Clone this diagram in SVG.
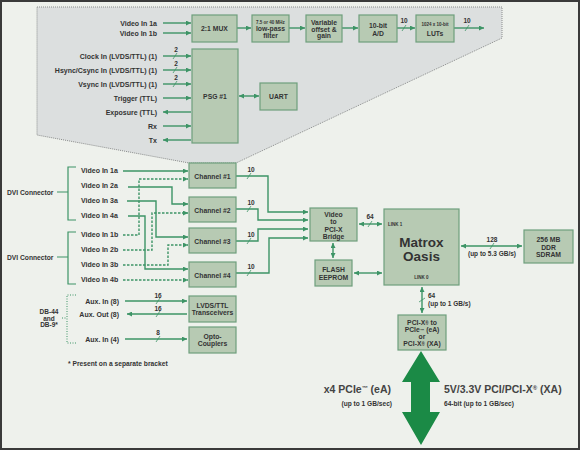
<svg xmlns="http://www.w3.org/2000/svg" width="580" height="450" viewBox="0 0 580 450">
<defs>
<style>
.t{font-family:"Liberation Sans",Arial,sans-serif;font-weight:bold;fill:#333}
.l{font-size:7px}
.r{text-anchor:end}
.m{text-anchor:middle}
.bx{fill:#b7cab3;stroke:#6e9f7c;stroke-width:1.2}
.bt{font-size:6.8px;text-anchor:middle}
.sm{font-size:4.5px;text-anchor:middle}
.c{fill:none;stroke:#3d9466;stroke-width:1.4}
.d{stroke-dasharray:2.5,1.5}
.dot{fill:none;stroke:#3d9466;stroke-width:1;stroke-dasharray:1,1.5}
.br{fill:none;stroke:#3d9466;stroke-width:1.2}
.a{marker-end:url(#ah)}
.aa{marker-end:url(#ah);marker-start:url(#ah)}
.sl{stroke:#3d9466;stroke-width:0.8}
.n{font-size:6.5px;text-anchor:middle}
</style>
<marker id="ah" viewBox="0 0 6 6" refX="6" refY="3" markerWidth="6" markerHeight="5" markerUnits="userSpaceOnUse" orient="auto-start-reverse">
<path d="M0,0 L6,3 L0,6 z" fill="#3d9466"/>
</marker>
</defs>
<rect x="1" y="1" width="578" height="448" fill="#eef1ec" stroke="#3a3a3a" stroke-width="2"/>
<polygon points="37,7 502,7 502,38 236,163 189,163 37,135" fill="#dcdfdf" stroke="#8a8c8c" stroke-width="1" stroke-dasharray="1,1"/>

<g id="connectors">
<path class="c a" d="M163,23 L191,23"/>
<path class="c a" d="M163,33 L191,33"/>
<path class="c a" d="M237,28 L251,28"/>
<path class="c a" d="M289,28 L305,28"/>
<path class="c a" d="M342,28 L358,28"/>
<path class="c a" d="M397,28 L415,28"/>
<path class="c a" d="M454,28 L484,28"/>
<line class="sl" x1="402" y1="31" x2="406" y2="25"/>
<line class="sl" x1="465" y1="31" x2="469" y2="25"/>
<text class="t n" x="404" y="23">10</text>
<text class="t n" x="467" y="23">10</text>
<path class="c a" d="M163,56 L191,56"/>
<path class="c a" d="M163,70 L191,70"/>
<path class="c a" d="M163,84 L191,84"/>
<path class="c a" d="M163,98 L191,98"/>
<path class="c a" d="M191,112 L163,112"/>
<path class="c a" d="M163,126 L191,126"/>
<path class="c a" d="M191,140 L163,140"/>
<line class="sl" x1="173" y1="59" x2="177" y2="53"/>
<line class="sl" x1="173" y1="73" x2="177" y2="67"/>
<line class="sl" x1="173" y1="87" x2="177" y2="81"/>
<text class="t n" x="176" y="52">2</text>
<text class="t n" x="176" y="66">2</text>
<text class="t n" x="176" y="80">2</text>
<path class="c aa" d="M239,96 L259,96"/>
<path class="c a" d="M123,171 L188,171"/>
<path class="c a d" d="M123,235 L139,235 L139,179 L188,179"/>
<path class="c a" d="M128,187 L172,187 L172,204 L188,204"/>
<path class="c a d" d="M123,250 L152,250 L152,213 L188,213"/>
<path class="c a" d="M127,201 L156,201 L156,237 L188,237"/>
<path class="c a d" d="M123,265 L168,265 L168,245 L188,245"/>
<path class="c a" d="M128,216 L145,216 L145,269 L188,269"/>
<path class="c a d" d="M123,280 L188,280"/>
<path class="c a" d="M236,176 L268,176 L268,212 L308,212"/>
<path class="c a" d="M236,209 L258,209 L258,220 L308,220"/>
<path class="c a" d="M236,241 L258,241 L258,229 L308,229"/>
<path class="c a" d="M236,273 L269,273 L269,238 L308,238"/>
<line class="sl" x1="247" y1="179" x2="251" y2="173"/>
<line class="sl" x1="247" y1="212" x2="251" y2="206"/>
<line class="sl" x1="247" y1="244" x2="251" y2="238"/>
<line class="sl" x1="247" y1="276" x2="251" y2="270"/>
<text class="t n" x="251" y="172">10</text>
<text class="t n" x="251" y="205">10</text>
<text class="t n" x="251" y="237">10</text>
<text class="t n" x="251" y="269">10</text>
<path class="c aa" d="M359,224 L382,224"/>
<line class="sl" x1="368" y1="227" x2="372" y2="221"/>
<text class="t n" x="370" y="219">64</text>
<path class="c aa" d="M333,243 L333,258"/>
<path class="c aa" d="M354,273 L382,273"/>
<path class="c aa" d="M461,246 L522,246"/>
<line class="sl" x1="490" y1="249" x2="494" y2="243"/>
<text class="t n" x="492" y="242">128</text>
<text class="t n" x="492" y="256">(up to 5.3 GB/s)</text>
<path class="c aa" d="M422,287 L422,313"/>
<line class="sl" x1="419" y1="302" x2="425" y2="298"/>
<text class="t" font-size="6.5" x="428" y="298">64</text>
<text class="t" font-size="6.5" x="428" y="306">(up to 1 GB/s)</text>
<path class="c a" d="M125,301 L187,301"/>
<path class="c a" d="M187,314 L127,314"/>
<path class="c a" d="M125,339 L187,339"/>
<line class="sl" x1="156" y1="304" x2="160" y2="298"/>
<line class="sl" x1="156" y1="317" x2="160" y2="311"/>
<line class="sl" x1="156" y1="342" x2="160" y2="336"/>
<text class="t n" x="158" y="298">16</text>
<text class="t n" x="158" y="311">16</text>
<text class="t n" x="158" y="335">8</text>
<path class="br" d="M76,167 L68,167 L68,220 L76,220 M57,192 L68,192"/>
<path class="br" d="M76,232 L68,232 L68,284 L76,284 M57,257 L68,257"/>
<path class="dot" d="M76,295 L67,295 L67,343 L76,343 M62,318 L67,318"/>
</g>

<g id="labels">
<text class="t l r" x="157" y="25.5">Video In 1a</text>
<text class="t l r" x="157" y="35.5">Video In 1b</text>
<text class="t l r" x="157" y="58.5">Clock In (LVDS/TTL) (1)</text>
<text class="t l r" x="157" y="72.5">Hsync/Csync In (LVDS/TTL) (1)</text>
<text class="t l r" x="157" y="86.5">Vsync In (LVDS/TTL) (1)</text>
<text class="t l r" x="157" y="100.5">Trigger (TTL)</text>
<text class="t l r" x="157" y="114.5">Exposure (TTL)</text>
<text class="t l r" x="157" y="128.5">Rx</text>
<text class="t l r" x="157" y="142.5">Tx</text>
<text class="t l" x="81" y="173">Video In 1a</text>
<text class="t l" x="81" y="188">Video In 2a</text>
<text class="t l" x="81" y="203">Video In 3a</text>
<text class="t l" x="81" y="218">Video In 4a</text>
<text class="t l" x="81" y="237">Video In 1b</text>
<text class="t l" x="81" y="252">Video In 2b</text>
<text class="t l" x="81" y="267">Video In 3b</text>
<text class="t l" x="81" y="282">Video In 4b</text>
<text class="t" font-size="6.7" x="7" y="194.5">DVI Connector</text>
<text class="t" font-size="6.7" x="7" y="259.5">DVI Connector</text>
<text class="t l r" x="119" y="304">Aux. In (8)</text>
<text class="t l r" x="119" y="317">Aux. Out (8)</text>
<text class="t l r" x="119" y="341.5">Aux. In (4)</text>
<text class="t n" x="49" y="313.5">DB-44</text>
<text class="t n" x="49" y="320.5">and</text>
<text class="t n" x="49" y="327">DB-9*</text>
<text class="t" font-size="6.7" x="68" y="366">* Present on a separate bracket</text>
</g>

<g id="mux"><rect class="bx" x="192" y="15" width="45" height="27"/><text class="t bt" font-size="7.5" x="214.5" y="31">2:1 MUX</text></g>
<g id="filter"><rect class="bx" x="252" y="15" width="37" height="27"/><text class="t sm" x="270.5" y="23.5">7.5 or 40 MHz</text><text class="t bt" x="270.5" y="31">low-pass</text><text class="t bt" x="270.5" y="38">filter</text></g>
<g id="offset"><rect class="bx" x="306" y="15" width="36" height="27"/><text class="t bt" x="324" y="25">Variable</text><text class="t bt" x="324" y="31.5">offset &amp;</text><text class="t bt" x="324" y="38">gain</text></g>
<g id="adc"><rect class="bx" x="359" y="15" width="38" height="27"/><text class="t bt" font-size="7.5" x="378" y="27.5">10-bit</text><text class="t bt" font-size="7.5" x="378" y="36">A/D</text></g>
<g id="luts"><rect class="bx" x="416" y="15" width="38" height="27"/><text class="t sm" x="435" y="26">1024 x 10-bit</text><text class="t bt" font-size="7.5" x="435" y="35.5">LUTs</text></g>
<g id="psg"><rect class="bx" x="192" y="49" width="46" height="94"/><text class="t bt" font-size="7.5" x="215" y="99">PSG #1</text></g>
<g id="uart"><rect class="bx" x="260" y="83" width="37" height="27"/><text class="t bt" font-size="7.5" x="278.5" y="99">UART</text></g>

<g id="ch1"><rect class="bx" x="189" y="163" width="47" height="25"/><text class="t bt" font-size="7.3" x="212.5" y="178.5">Channel #1</text></g>
<g id="ch2"><rect class="bx" x="189" y="197" width="47" height="25"/><text class="t bt" font-size="7.3" x="212.5" y="212.5">Channel #2</text></g>
<g id="ch3"><rect class="bx" x="189" y="228" width="47" height="25"/><text class="t bt" font-size="7.3" x="212.5" y="243.5">Channel #3</text></g>
<g id="ch4"><rect class="bx" x="189" y="262" width="47" height="25"/><text class="t bt" font-size="7.3" x="212.5" y="277.5">Channel #4</text></g>

<g id="bridge"><rect class="bx" x="310" y="208" width="47" height="33"/><text class="t bt" font-size="6.5" x="333.5" y="216.5">Video</text><text class="t bt" font-size="6.5" x="333.5" y="224">to</text><text class="t bt" font-size="6.5" x="333.5" y="231.5">PCI-X</text><text class="t bt" font-size="6.5" x="333.5" y="239">Bridge</text></g>
<g id="flash"><rect class="bx" x="315" y="260" width="37" height="26"/><text class="t bt" font-size="6.5" x="333.5" y="271.5">FLASH</text><text class="t bt" font-size="6.5" x="333.5" y="279.5">EEPROM</text></g>
<g id="matrox"><rect class="bx" x="384" y="209" width="75" height="76"/><text class="t" font-size="4.5" x="388" y="226">LINK 1</text><text class="t m" font-size="13.5" x="421.5" y="247">Matrox</text><text class="t m" font-size="13.5" x="421.5" y="261">Oasis</text><text class="t sm" x="421.5" y="279">LINK 0</text></g>
<g id="sdram"><rect class="bx" x="524" y="230" width="49" height="33"/><text class="t bt" font-size="6.8" x="548.5" y="242">256 MB</text><text class="t bt" font-size="6.8" x="548.5" y="249.5">DDR</text><text class="t bt" font-size="6.8" x="548.5" y="257">SDRAM</text></g>
<g id="pcix"><rect class="bx" x="398" y="315" width="48" height="35"/><text class="t bt" font-size="6.2" x="422" y="324.5">PCI-X<tspan font-size="4.5">®</tspan> to</text><text class="t bt" font-size="6.2" x="422" y="331.5">PCIe<tspan font-size="4.5">™</tspan> (eA)</text><text class="t bt" font-size="6.2" x="422" y="338.5">or</text><text class="t bt" font-size="6.2" x="422" y="345.5">PCI-X<tspan font-size="4.5">®</tspan> (XA)</text></g>
<g id="lvds"><rect class="bx" x="189" y="296" width="47" height="26"/><text class="t bt" font-size="7" x="212.5" y="308">LVDS/TTL</text><text class="t bt" font-size="7" x="212.5" y="315">Transceivers</text></g>
<g id="opto"><rect class="bx" x="189" y="327" width="47" height="26"/><text class="t bt" font-size="7" x="212.5" y="339">Opto-</text><text class="t bt" font-size="7" x="212.5" y="346">Couplers</text></g>

<g id="bus">
<polygon points="421,351 440,382 430,382 430,412 440,412 421,445 402,412 411,412 411,382 402,382" fill="#1b8a46"/>
<text class="t r" font-size="10.5" x="391" y="393" style="fill:#444">x4 PCIe<tspan font-size="6" dy="-3">™</tspan><tspan dy="3"> (eA)</tspan></text>
<text class="t r" font-size="6.6" x="392" y="405.5">(up to 1 GB/sec)</text>
<text class="t" font-size="10.5" x="444" y="393" style="fill:#444">5V/3.3V PCI/PCI-X<tspan font-size="6" dy="-3">®</tspan><tspan dy="3"> (XA)</tspan></text>
<text class="t" font-size="6.6" x="444" y="405.5">64-bit (up to 1 GB/sec)</text>
</g>
</svg>
